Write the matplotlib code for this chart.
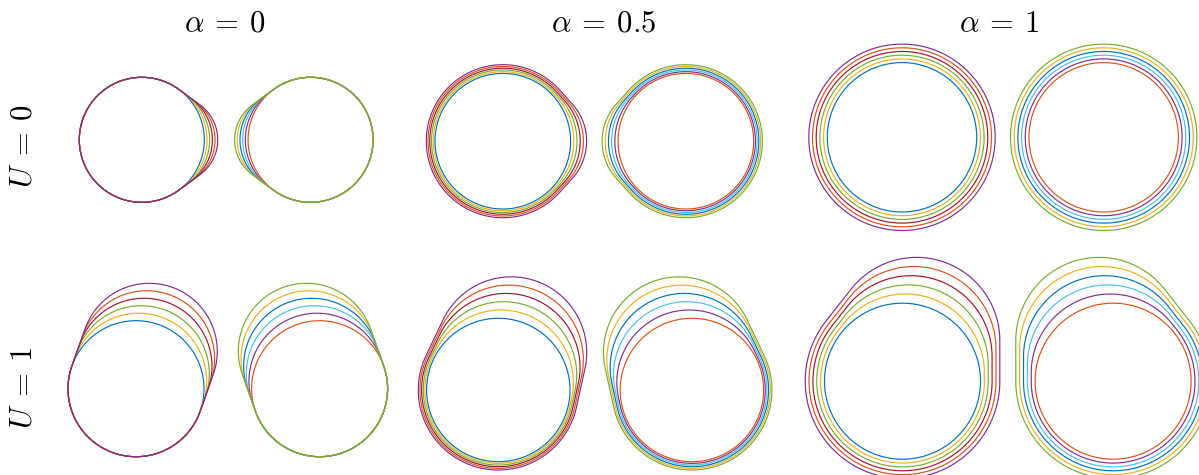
import numpy as np
import matplotlib
matplotlib.use("Agg")
import matplotlib.pyplot as plt
from matplotlib.patches import Polygon

plt.rcParams["mathtext.fontset"] = "cm"

# Panel labels
alpha_labels = [r"$\alpha\:=\:0$", r"$\alpha\:=\:0.5$", r"$\alpha\:=\:1$"]
u_labels = [r"$U\:=\:0$", r"$U\:=\:1$"]

# Shape family: six nested curves per droplet, base radius 1,
# droplet pair separated by this distance (centre to centre)
n_curves = 6
separation = 2.7

# Per-step parameters, rows = U, columns = alpha
growth = [[0.0, 0.0257, 0.0495],      # uniform radial growth
          [0.0, 0.0232, 0.0495]]
shift_x = [[0.105, 0.0837, 0.0],      # lobe drift towards / away from partner
           [0.039, 0.036, 0.036]]
shift_y = [[0.0, 0.0, 0.0],           # vertical lobe drift
           [0.110, 0.105, 0.104]]
shrink = [[0.062, 0.0622, 0.0],       # lobe radius reduction
          [0.0, 0.0126, 0.036]]

# MATLAB-style colour cycle
blue, orange, yellow = "#0072BD", "#D95319", "#EDB120"
purple, green, lightblue, darkred = "#7E2F8E", "#77AC30", "#4DBEEE", "#A2142F"
colors_left = [blue, yellow, green, darkred, orange, purple]
colors_right = [orange, purple, lightblue, blue, yellow, green]

# Layout: pixel centre of the left droplet and pixel size of unit radius
W, H = 1199, 475
layout = [[(141.8, 139.8, 62.5), (502.8, 141.2, 67.8), (902.0, 137.3, 74.7)],
          [(136.0, 388.7, 68.0), (498.3, 390.0, 71.7), (902.5, 381.2, 78.0)]]
title_pos = [(225, 23), (604, 23), (999, 23)]
row_label_pos = [(23, 146), (23, 388)]

theta = np.linspace(0, 2 * np.pi, 3000, endpoint=False)
normals = np.stack([np.cos(theta), np.sin(theta)], axis=1)


def disk_hull(centers, radii):
    """Boundary of the convex hull of several disks via support functions."""
    centers = np.asarray(centers, float)
    radii = np.asarray(radii, float)
    support = centers @ normals.T + radii[:, None]
    idx = np.argmax(support, axis=0)
    return centers[idx] + radii[idx][:, None] * normals


fig = plt.figure(figsize=(W / 100, H / 100), dpi=100)

xpad, ylo, yhi = 1.6, 1.6, 1.9
for i in range(2):
    for j in range(3):
        cx, cy, R = layout[i][j]
        left = cx - xpad * R
        width = (separation + 2 * xpad) * R
        bottom = (H - cy) - ylo * R
        height = (ylo + yhi) * R
        ax = fig.add_axes([left / W, bottom / H, width / W, height / H])
        ax.set_xlim(-xpad, separation + xpad)
        ax.set_ylim(-ylo, yhi)
        ax.axis("off")

        g, sx, sy, sr = growth[i][j], shift_x[i][j], shift_y[i][j], shrink[i][j]
        for x0, sgn, cols in [(0.0, 1, colors_left), (separation, -1, colors_right)]:
            for k in range(n_curves):
                ra = 1 + k * g
                rb = ra - k * sr
                pts = disk_hull([(x0, 0.0), (x0 + sgn * k * sx, k * sy)], [ra, rb])
                ax.add_patch(Polygon(pts, closed=True, fill=False,
                                     edgecolor=cols[k], lw=0.85,
                                     clip_on=False, joinstyle="round"))

for lab, (x, y) in zip(alpha_labels, title_pos):
    fig.text(x / W, 1 - y / H, lab, ha="center", va="center", fontsize=22)
for lab, (x, y) in zip(u_labels, row_label_pos):
    fig.text(x / W, 1 - y / H, lab, ha="center", va="center", fontsize=22,
             rotation=90)

fig.savefig("out.png", dpi=100)
